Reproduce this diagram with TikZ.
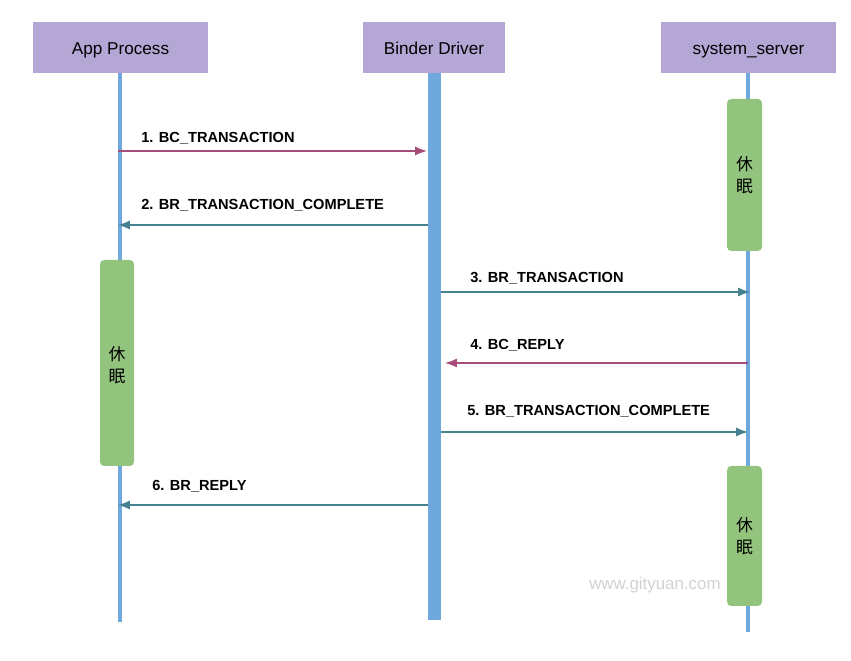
\documentclass[tikz,border=0pt]{standalone}
\usepackage{fontspec}
\setmainfont{Liberation Sans}
\newfontfamily\cjk{Noto Sans CJK SC}
\usetikzlibrary{arrows.meta}
\definecolor{headpurple}{RGB}{180,167,214}
\definecolor{lifeblue}{RGB}{111,168,220}
\definecolor{sleepgreen}{RGB}{147,196,125}
\definecolor{callred}{RGB}{166,77,121}
\definecolor{backteal}{RGB}{69,129,142}

\tikzset{
  head/.style={fill=headpurple, minimum height=51*0.025cm, inner sep=0pt, text height=10.6pt, text depth=0pt, font=\fontsize{12.2}{14}\selectfont},
  life/.style={draw=lifeblue, line width=2.2pt},
  sleep/.style={fill=sleepgreen, rounded corners=3pt},
  sleeptext/.style={font=\cjk\fontsize{12}{16}\selectfont, align=center},
  msg/.style={line width=1pt, -{Latex[length=8.5pt,width=6.5pt]}},
  msglabel/.style={anchor=west, inner sep=0pt, font=\bfseries\fontsize{10.4}{12}\selectfont}
}

\begin{document}
\begin{tikzpicture}[x=0.025cm, y=-0.025cm]
	\useasboundingbox (0,0) rectangle (851,661);
	
	% lifelines
	\draw[life] (120,73) -- (120,622);
	\fill[lifeblue] (428,73) rectangle (441,620);
	\draw[life] (748,73) -- (748,632);
	
	% participants
	\node[head, minimum width=175*0.025cm] (app) at (120.5,47.5) {App Process};
	\node[head, minimum width=142*0.025cm] (binder) at (434,47.5) {Binder Driver};
	\node[head, minimum width=175*0.025cm] (server) at (748.5,47.5) {system\_server};
	
	% sleeping periods
	\fill[sleep] (727,99) rectangle (762,251);
	\node[sleeptext] (sleepA) at (744.5,175) {休\\眠};
	\fill[sleep] (100,260) rectangle (134,466);
	\node[sleeptext] (sleepB) at (117,365) {休\\眠};
	\fill[sleep] (727,466) rectangle (762,606);
	\node[sleeptext] (sleepC) at (744.5,536) {休\\眠};
	
	% message end points
	\coordinate (a1) at (118,151);
	\coordinate (b1) at (427,151);
	\coordinate (b2) at (428,225);
	\coordinate (a2) at (118,225);
	\coordinate (b3) at (441,292);
	\coordinate (s3) at (750,292);
	\coordinate (s4) at (748,363);
	\coordinate (b4) at (445,363);
	\coordinate (b5) at (441,432);
	\coordinate (s5) at (748,432);
	\coordinate (b6) at (428,505);
	\coordinate (a6) at (118,505);
	
	\draw[msg, callred] (a1) -- (b1);
	\draw[msg, backteal] (b2) -- (a2);
	\draw[msg, backteal] (b3) -- (s3);
	\draw[msg, callred] (s4) -- (b4);
	\draw[msg, backteal] (b5) -- (s5);
	\draw[msg, backteal] (b6) -- (a6);
	
	\node[msglabel] (l1) at (141,138) {1. BC\_TRANSACTION};
	\node[msglabel] (l2) at (141,205) {2. BR\_TRANSACTION\_COMPLETE};
	\node[msglabel] (l3) at (470,278) {3. BR\_TRANSACTION};
	\node[msglabel] (l4) at (470,345) {4. BC\_REPLY};
	\node[msglabel] (l5) at (467,411) {5. BR\_TRANSACTION\_COMPLETE};
	\node[msglabel] (l6) at (152,486) {6. BR\_REPLY};
	
	\node[anchor=west, inner sep=0pt, text=black!18, font=\fontsize{12}{14}\selectfont] (mark) at (589,585) {www.gityuan.com};
\end{tikzpicture}
\end{document}
